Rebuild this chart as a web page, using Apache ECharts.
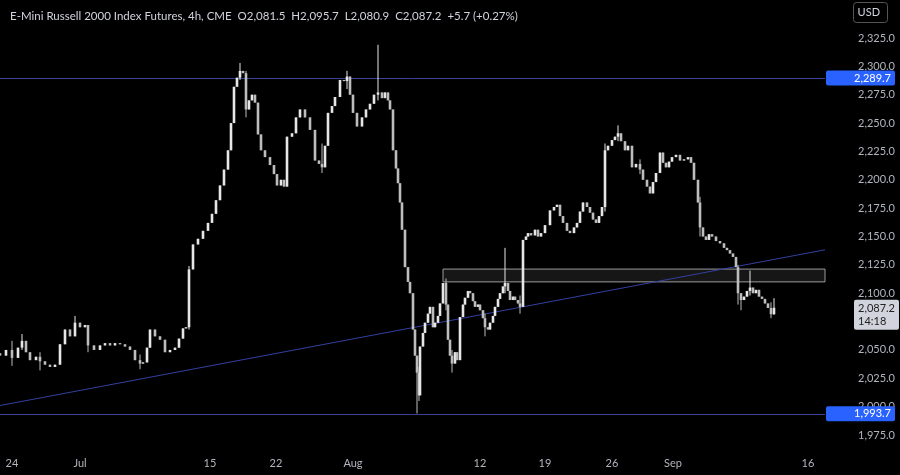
<!DOCTYPE html>
<html><head><meta charset="utf-8">
<script src="https://cdn.jsdelivr.net/npm/echarts@6/dist/echarts.min.js"></script>
<style>html,body{margin:0;background:#000;}#c{width:900px;height:475px;}</style>
</head><body><div id="c"></div>
<script>
// t = trading-time position (chart time units), close = 4h close
const times = [0,6,12,18,22,26,30,36,40,45,50,55,60,65,70,75,80,85,88,94,100,105,110,115,120,125,130,135,140,143,147,150,155,160,165,170,175,179,183,186,189,193,198,203,208,212,216,220,224,228,231,234,237,240,243,246,249,252,255,258,261,265,270,274,277,281,284,287,292,296,300,305,310,315,319,322,325,328,332,335,340,344,347,350,353,357,362,366,370,374,378,382,385,388,390,393,396,398,400,402,405,408,410,413,415,417,419,420,423,425,428,430,433,435,438,440,443,446,448,450,452,455,457,460,463,465,468,470,473,475,478,480,483,485,488,490,493,495,498,500,503,505,508,510,513,515,518,520,523,526,528,531,535,538,541,545,550,554,557,560,563,567,570,574,577,580,583,587,590,593,596,599,602,605,608,612,615,618,621,625,628,632,636,640,643,647,650,653,656,660,663,666,669,672,676,680,684,688,691,694,698,700,703,706,709,712,716,720,724,727,730,733,736,738,741,744,747,750,753,756,759,762,765,768,771,774];
const closes = [2045,2050,2043,2052,2058,2048,2041,2044,2040,2037,2035,2037,2055,2068,2062,2074,2070,2072,2054,2050,2054,2056,2054,2056,2055,2053,2050,2041,2038,2039,2052,2068,2062,2059,2048,2050,2052,2060,2069,2070,2121,2143,2148,2155,2162,2170,2182,2195,2209,2226,2250,2282,2290,2296,2294,2262,2270,2275,2268,2240,2226,2220,2213,2205,2195,2200,2194,2238,2241,2255,2262,2255,2244,2217,2214,2211,2230,2259,2265,2273,2288,2287,2291,2275,2259,2247,2255,2262,2267,2275,2277,2272,2277,2270,2262,2226,2210,2197,2180,2156,2123,2110,2100,2068,2045,2030,2010,2053,2065,2074,2082,2088,2070,2074,2080,2091,2109,2090,2059,2045,2038,2048,2041,2079,2090,2096,2102,2100,2093,2088,2090,2085,2078,2070,2068,2074,2080,2088,2095,2100,2106,2109,2102,2094,2097,2094,2091,2088,2147,2150,2153,2151,2156,2150,2153,2160,2173,2176,2178,2168,2162,2155,2153,2158,2162,2172,2180,2176,2171,2165,2162,2168,2176,2226,2230,2235,2238,2241,2234,2226,2230,2211,2214,2209,2200,2194,2188,2198,2206,2224,2215,2211,2216,2220,2222,2217,2218,2220,2215,2200,2180,2158,2150,2147,2152,2150,2146,2144,2140,2138,2135,2132,2123,2100,2094,2097,2102,2105,2100,2103,2097,2095,2091,2087,2081.5,2087.2];
// notable wicks: [time, low, high]
const wicks = [[12,2036,2058],[22,2050,2064],[40,2032,2048],[75,2066,2080],[88,2048,2066],[140,2033,2046],[189,2068,2124],[240,2288,2303],[246,2255,2296],[322,2206,2232],[347,2280,2296],[378,2270,2319],[417,1994,2045],[419,2005,2035],[446,2085,2113],[452,2030,2050],[485,2062,2082],[505,2100,2140],[520,2082,2098],[605,2172,2232],[618,2234,2248],[640,2205,2218],[700,2150,2185],[738,2090,2125],[741,2085,2100],[750,2098,2120],[771,2078,2092],[774,2080.9,2095.7]];
const xTicks = [12,80,210,276,353,480,545,612,673,808];
const xTickText = ['24','Jul','15','22','Aug','12','19','26','Sep','16'];
const yTicks = [1975,2000,2025,2050,2075,2100,2125,2150,2175,2200,2225,2250,2275,2300,2325];
const levels = [2289.7, 1993.7];
const lastPrice = 2087.2, countdown = '14:18';
const zone = [2110, 2121.3], zoneStart = 443;
const trend = [[0,2001],[825,2138.3]];

const wickMap = {}; wicks.forEach(w => wickMap[w[0]] = w);
const candles = times.map((t,i) => {
  const o = i ? closes[i-1] : closes[0] + 2, c = closes[i];
  const w = wickMap[t];
  const lo = Math.min(o, c, w ? w[1] : Infinity), hi = Math.max(o, c, w ? w[2] : -Infinity);
  return [t, o, c, lo, hi];
});
const fmt = v => v.toLocaleString('en-US',{minimumFractionDigits:1,maximumFractionDigits:1});

const chart = echarts.init(document.getElementById('c'), null, {renderer:'canvas'});
const lvlLabel = v => ({position:'end', formatter:fmt(v), color:'#fff', backgroundColor:'#2962ff', padding:[2,4,2,28], fontSize:11, fontFamily:'Lato', distance:1, borderRadius:2});
chart.setOption({
  backgroundColor:'#000',
  animation:false,
  title:{text:'E-Mini Russell 2000 Index Futures, 4h, CME  O2,081.5  H2,095.7  L2,080.9  C2,087.2  +5.7 (+0.27%)',
    left:5, top:5, textStyle:{color:'#d1d4dc', fontSize:11.5, fontWeight:'normal', fontFamily:'Lato'}},
  grid:{left:0, right:75, top:0, bottom:25},
  xAxis:{type:'value', min:0, max:825,
    axisLine:{show:false}, axisTick:{show:false}, splitLine:{show:false},
    axisLabel:{customValues:xTicks, formatter:v => xTickText[xTicks.indexOf(v)] || '', color:'#b2b5be', fontSize:11, fontFamily:'Lato', margin:8}},
  yAxis:{type:'value', position:'right', min:1961.8, max:2358.5, scale:true,
    axisLine:{show:false}, axisTick:{show:false}, splitLine:{show:false},
    axisLabel:{customValues:yTicks, formatter:v => fmt(v), color:'#b2b5be', fontSize:11, fontFamily:'Lato', margin:33}},
  graphic:[{type:'rect', right:12, top:2, shape:{width:34,height:20,r:3}, style:{fill:'#000', stroke:'#555', lineWidth:1}},
           {type:'text', right:20, top:7, style:{text:'USD', fill:'#d1d4dc', font:'11px Lato'}}],
  series:[
    {type:'custom', renderItem:(params, api) => {
        const t = api.value(0), o = api.value(1), c = api.value(2), lo = api.value(3), hi = api.value(4);
        const po = api.coord([t,o]), pc = api.coord([t,c]), pl = api.coord([t,lo]), ph = api.coord([t,hi]);
        const top = Math.min(po[1], pc[1]), h = Math.max(1, Math.abs(po[1]-pc[1]));
        const col = c >= o ? '#e6e6e6' : '#bdbdbd';
        return {type:'group', children:[
          {type:'line', shape:{x1:pl[0], y1:pl[1], x2:ph[0], y2:ph[1]}, style:{stroke:col, lineWidth:1}},
          {type:'rect', shape:{x:po[0]-1.3, y:top, width:2.6, height:h}, style:{fill:col}}
        ]};
      }, data:candles, encode:{x:0, y:[1,2,3,4]}, z:5,
      markArea:{silent:true, itemStyle:{color:'#161616', borderColor:'#9a9a9a', borderWidth:1},
        data:[[{coord:[zoneStart, zone[1]]},{coord:[825, zone[0]]}]]}},
    {type:'line', data:trend, symbol:'none', lineStyle:{color:'#3340a0', width:1}, z:3, silent:true},
    {type:'line', data:[], z:4, silent:true,
      markLine:{symbol:'none', silent:true,
        data:[
          {yAxis:levels[0], lineStyle:{color:'#3a4596', width:1, type:'solid'}, label:lvlLabel(levels[0])},
          {yAxis:levels[1], lineStyle:{color:'#3a4596', width:1, type:'solid'}, label:lvlLabel(levels[1])},
          {yAxis:lastPrice, lineStyle:{color:'rgba(0,0,0,0)', width:1},
            label:{position:'end', formatter:fmt(lastPrice)+'\n'+countdown, color:'#222', backgroundColor:'#d1d4dc', padding:[2,4,2,4], lineHeight:13, fontSize:11, fontFamily:'Lato', distance:1, offset:[28,7], borderRadius:2}}
        ]}}
  ]
});
</script></body></html>
